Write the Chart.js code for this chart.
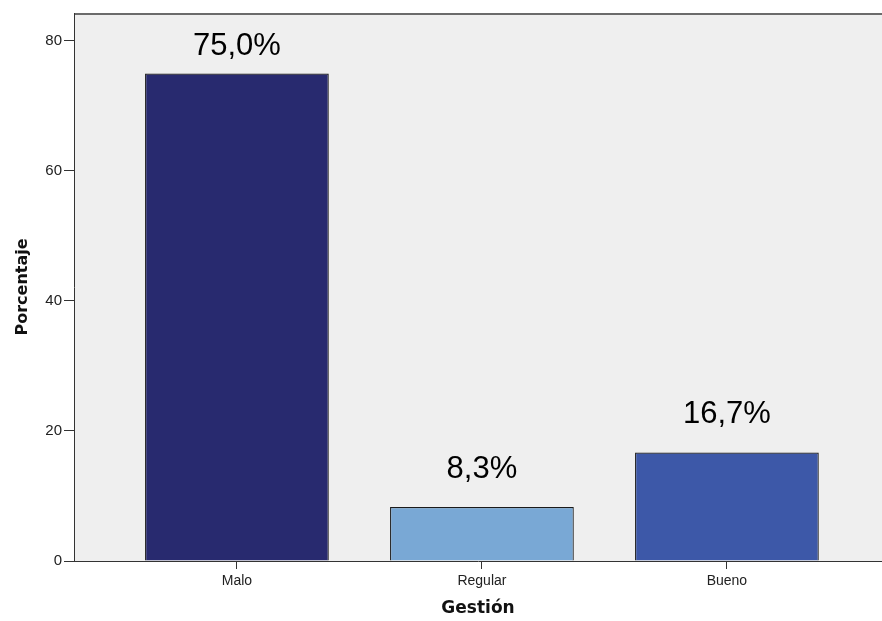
<!DOCTYPE html>
<html>
<head>
<meta charset="utf-8">
<script src="https://cdn.jsdelivr.net/npm/chart.js@4.4.0/dist/chart.umd.min.js"></script>
<style>
  html, body { margin: 0; padding: 0; background: #fff; overflow: hidden; }
  #wrap { width: 882px; height: 621px; }
</style>
</head>
<body>
<div id="wrap"><canvas id="chart"></canvas></div>
<script>
// Data
const categories = ['Malo', 'Regular', 'Bueno'];
const percentages = [75.0, 8.3, 16.7];
const valueLabels = ['75,0%', '8,3%', '16,7%'];
const barColors = ['#282a6f', '#79a8d5', '#3d58a8'];
const yTicks = [0, 20, 40, 60, 80];

// Plot background + top border
const plotFrame = {
    id: 'plotFrame',
    beforeDraw(chart) {
        const { ctx, chartArea: a } = chart;
        ctx.save();
        ctx.fillStyle = '#efefef';
        ctx.fillRect(a.left, a.top, a.right - a.left, a.bottom - a.top);
        ctx.strokeStyle = '#6b6b6b';
        ctx.lineWidth = 2;
        ctx.beginPath();
        ctx.moveTo(a.left, a.top + 1);
        ctx.lineTo(a.right, a.top + 1);
        ctx.stroke();
        ctx.restore();
    }
};

// Value labels above bars
const valueText = {
    id: 'valueText',
    afterDatasetsDraw(chart) {
        const { ctx, chartArea: a } = chart;
        const bars = chart.getDatasetMeta(0).data;
        ctx.save();
        ctx.font = '31px "Liberation Sans", Arial, sans-serif';
        ctx.fillStyle = '#000';
        ctx.textAlign = 'center';
        ctx.textBaseline = 'middle';
        bars.forEach((bar, i) => {
            const y = Math.max(bar.y - 38, a.top + 33);
            ctx.fillText(valueLabels[i], bar.x, y);
        });
        ctx.restore();
    }
};

new Chart(document.getElementById('chart'), {
    type: 'bar',
    data: {
        datasets: [{
            data: percentages.map((v, i) => ({ x: i + 1, y: v })),
            backgroundColor: barColors,
            borderColor: '#1a1a1a',
            borderWidth: 1.2,
            barPercentage: 0.75,
            categoryPercentage: 1
        }]
    },
    options: {
        responsive: true,
        maintainAspectRatio: false,
        animation: false,
        layout: { padding: { top: 13, right: 0, bottom: 0, left: 0 } },
        plugins: { legend: { display: false }, tooltip: { enabled: false } },
        scales: {
            x: {
                type: 'linear',
                offset: false,
                min: 0.335,
                max: 3.633,
                afterBuildTicks: (scale) => { scale.ticks = categories.map((c, i) => ({ value: i + 1 })); },
                afterFit: (scale) => { scale.height = 60; },
                grid: { offset: false, drawOnChartArea: false, tickLength: 8, tickColor: '#333', tickWidth: 1 },
                border: { display: true, color: '#333', width: 1 },
                ticks: {
                    autoSkip: false,
                    maxRotation: 0,
                    padding: 4,
                    color: '#222',
                    font: { family: '"Liberation Sans", Arial, sans-serif', size: 14 },
                    callback: (v) => categories[v - 1]
                },
                title: {
                    display: true,
                    text: 'Gestión',
                    color: '#111',
                    padding: { top: 0, bottom: 2 },
                    font: { family: '"DejaVu Sans", sans-serif', size: 17, weight: 'bold' }
                }
            },
            y: {
                min: 0,
                max: 84.3,
                afterBuildTicks: (scale) => { scale.ticks = yTicks.map(v => ({ value: v })); },
                afterFit: (scale) => { scale.width = 74; },
                grid: { drawOnChartArea: false, tickLength: 10, tickColor: '#333', tickWidth: 1 },
                border: { display: true, color: '#333', width: 1 },
                ticks: {
                    padding: 2,
                    color: '#222',
                    font: { family: '"Liberation Sans", Arial, sans-serif', size: 15 }
                },
                title: {
                    display: true,
                    text: 'Porcentaje',
                    color: '#111',
                    padding: { top: 13, bottom: 0 },
                    font: { family: '"DejaVu Sans", sans-serif', size: 16, weight: 'bold' }
                }
            }
        }
    },
    plugins: [plotFrame, valueText]
});
</script>
</body>
</html>
